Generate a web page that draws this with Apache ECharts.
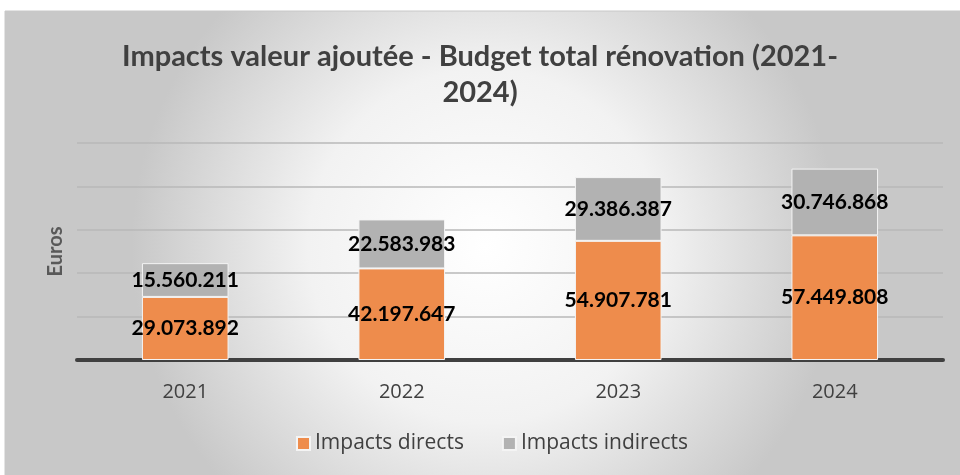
<!DOCTYPE html>
<html>
<head>
<meta charset="utf-8">
<script src="https://cdn.jsdelivr.net/npm/echarts@6/dist/echarts.min.js"></script>
<style>
  html, body { margin: 0; padding: 0; background: #fff; }
  #graph { width: 960px; height: 475px; }
</style>
</head>
<body>
<div id="graph"></div>
<script>
let years = ["2021", "2022", "2023", "2024"];
let directs = [29073892, 42197647, 54907781, 57449808];
let indirects = [15560211, 22583983, 29386387, 30746868];
let seriesNames = ["Impacts directs", "Impacts indirects"];

// format 29073892 -> 29.073.892
function fmt(v) {
    return String(v).replace(/\B(?=(\d{3})+(?!\d))/g, ".");
}

let myChart = echarts.init(document.getElementById('graph'));

let labelStyle = {
    show: true,
    position: 'inside',
    color: '#000',
    fontWeight: 'bold',
    fontSize: 21,
    fontFamily: 'Lato',
    formatter: function (p) { return fmt(p.value); }
};

let option = {
    animation: false,
    graphic: [{
        type: 'rect',
        z: -10,
        silent: true,
        shape: { x: 5, y: 11, width: 960, height: 470 },
        style: {
            fill: new echarts.graphic.RadialGradient(0.5, 0.5, 0.75, [
                { offset: 0, color: '#ffffff' },
                { offset: 0.5, color: '#f2f2f2' },
                { offset: 1, color: '#c8c8c8' }
            ]),
            stroke: '#c8c8c8',
            lineWidth: 1
        }
    }],
    title: {
        text: 'Impacts valeur ajoutée - Budget total rénovation (2021-\n2024)',
        left: 'center',
        top: 34,
        textStyle: {
            fontFamily: 'Lato',
            fontWeight: 'bold',
            fontSize: 29,
            color: '#404040',
            lineHeight: 36
        }
    },
    legend: {
        bottom: 16,
        left: 291,
        itemWidth: 13,
        itemHeight: 13,
        itemGap: 38,
        icon: 'rect',
        textStyle: { fontFamily: 'Open Sans', fontSize: 21, color: '#404040' },
        data: seriesNames
    },
    grid: { left: 77, right: 17, top: 143, bottom: 115 },
    xAxis: {
        type: 'category',
        data: years,
        axisLine: { lineStyle: { color: '#404040', width: 4 } },
        axisTick: { show: false },
        axisLabel: { fontFamily: 'Open Sans', fontSize: 20, color: '#404040', margin: 22 }
    },
    yAxis: {
        type: 'value',
        min: 0,
        max: 100000000,
        interval: 20000000,
        name: 'Euros',
        nameLocation: 'middle',
        nameGap: 11,
        nameTextStyle: { fontFamily: 'Lato', fontWeight: 'bold', fontSize: 20, color: '#595959' },
        axisLabel: { show: false },
        axisLine: { show: false },
        axisTick: { show: false },
        splitLine: { lineStyle: { color: '#b8b8b8', width: 1.5 } }
    },
    series: [
        {
            name: seriesNames[0],
            type: 'bar',
            stack: 'total',
            barWidth: '40%',
            data: directs,
            itemStyle: { color: '#ee8c4c', borderColor: '#f4f4f4', borderWidth: 1 },
            label: labelStyle
        },
        {
            name: seriesNames[1],
            type: 'bar',
            stack: 'total',
            barWidth: '40%',
            data: indirects,
            itemStyle: { color: '#b2b2b2', borderColor: '#f4f4f4', borderWidth: 1 },
            label: labelStyle
        }
    ]
};
myChart.setOption(option);
</script>
</body>
</html>
